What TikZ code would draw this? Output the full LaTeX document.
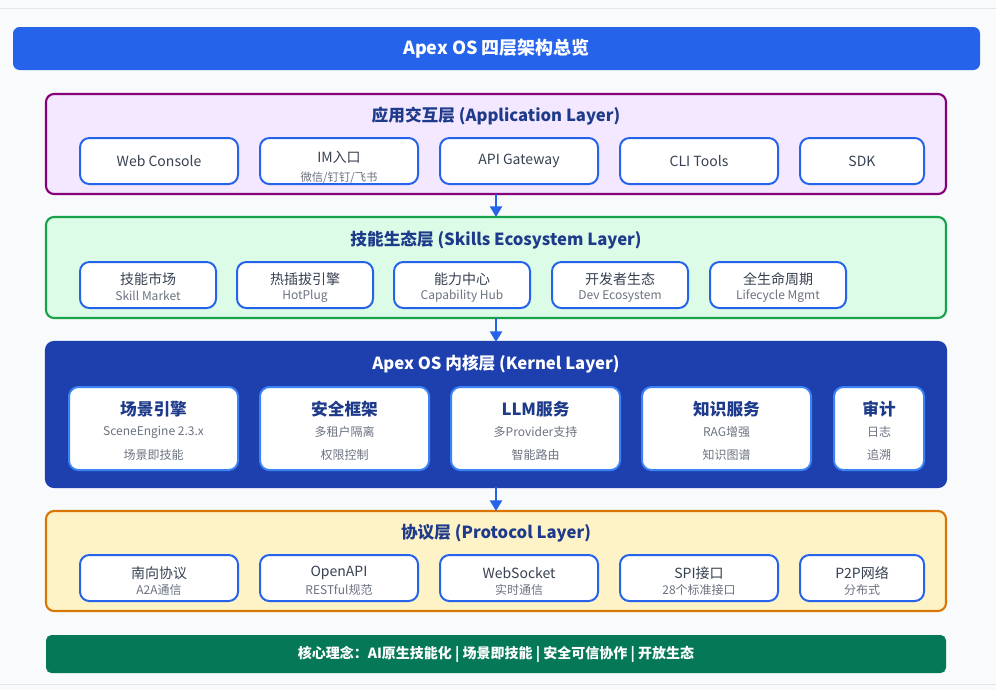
\documentclass[tikz,border=0pt]{standalone}
\usepackage{fontspec}
\setmainfont{Noto Sans CJK SC}
\usetikzlibrary{arrows.meta}
\definecolor{bg}{HTML}{F8FAFC}
\definecolor{tblue}{HTML}{2563EB}
\definecolor{dblue}{HTML}{1E3A8A}
\definecolor{kblue}{HTML}{1E40AF}
\definecolor{gtxt}{HTML}{6B7280}
\definecolor{ktxt}{HTML}{374151}
\tikzset{
 layer/.style={rounded corners=6pt,line width=1.6pt},
 ibox/.style={draw=tblue,fill=white,rounded corners=7pt,line width=1.5pt},
 ltitle/.style={font=\fontsize{12.5}{14}\selectfont\bfseries,text=dblue},
 mtxt/.style={font=\fontsize{10.5}{12}\selectfont,text=ktxt},
 stxt/.style={font=\fontsize{9}{10}\selectfont,text=gtxt},
 ktitle/.style={font=\fontsize{12.5}{14}\selectfont\bfseries,text=dblue},
 flow/.style={-{Triangle[length=8pt,width=9pt]},draw=tblue,fill=tblue,line width=1.8pt},
}
\begin{document}
\begin{tikzpicture}[x=0.75pt,y=-0.75pt]
\useasboundingbox (0,0) rectangle (996,690);
\fill[bg] (0,0) rectangle (996,690);
\draw[black!10] (0,8)--(996,8);
\draw[black!10] (0,684)--(996,684);
% title
\node[fill=tblue,rounded corners=5pt,minimum width=967*0.75pt,minimum height=43*0.75pt,text=white,font=\fontsize{13.5}{16}\selectfont\bfseries] (title) at (496.5,48.5) {Apex OS 四层架构总览};
% layers
\path[layer,draw=purple!70!blue,fill={rgb,255:red,243;green,232;blue,255}] (46,94) rectangle (946,194);
\coordinate (L1b) at (496,194);
\node[ltitle] (t1) at (496,116) {应用交互层 (Application Layer)};
\path[layer,draw={rgb,255:red,22;green,163;blue,74},fill={rgb,255:red,220;green,252;blue,231}] (46,217) rectangle (946,318);
\coordinate (L2t) at (496,217); \coordinate (L2b) at (496,318);
\node[ltitle] (t2) at (496,240) {技能生态层 (Skills Ecosystem Layer)};
\path[layer,draw=kblue,fill=kblue] (46,342) rectangle (946,487);
\coordinate (L3t) at (496,342); \coordinate (L3b) at (496,487);
\node[ltitle,text=white] (t3) at (496,364) {Apex OS 内核层 (Kernel Layer)};
\path[layer,draw={rgb,255:red,217;green,119;blue,6},fill={rgb,255:red,254;green,243;blue,199}] (46,511) rectangle (946,611);
\coordinate (L4t) at (496,511);
\node[ltitle] (t4) at (496,533) {协议层 (Protocol Layer)};
\draw[flow] (L1b)--(L2t);
\draw[flow] (L2b)--(L3t);
\draw[flow] (L3b)--(L4t);
% app boxes
\foreach \a/\b/\t [count=\i] in {80/238/Web Console,260/418/{},440/598/API Gateway,620/778/CLI Tools,800/924/SDK}{
  \draw[ibox] (\a,138) rectangle (\b,184);
  \node[mtxt] (a\i) at ({(\a+\b)/2},161) {\t};
}
\node[mtxt] (im) at (339,157) {IM入口};
\node[stxt,font=\fontsize{8.5}{10}\selectfont] (ims) at (339,178) {微信/钉钉/飞书};
% skills
\foreach \a/\t/\s [count=\i] in {80/技能市场/Skill Market,237/热插拔引擎/HotPlug,394/能力中心/Capability Hub,552/开发者生态/Dev Ecosystem,710/全生命周期/Lifecycle Mgmt}{
  \draw[ibox] (\a,262) rectangle (\a+136,308);
  \node[mtxt] (s\i) at (\a+68,279) {\t};
  \node[stxt] (ss\i) at (\a+68,296) {\s};
}
% kernel
\foreach \a/\b/\t/\s/\u [count=\i] in {69/238/场景引擎/SceneEngine 2.3.x/场景即技能,260/429/安全框架/多租户隔离/权限控制,451/620/LLM服务/多Provider支持/智能路由,642/811/知识服务/RAG增强/知识图谱,834/924/审计/日志/追溯}{
  \draw[ibox,draw={rgb,255:red,59;green,130;blue,246}] (\a,387) rectangle (\b,470);
  \node[ktitle] (k\i) at ({(\a+\b)/2},409) {\t};
  \node[stxt] (kk\i) at ({(\a+\b)/2},432) {\s};
  \node[stxt] (kkk\i) at ({(\a+\b)/2},455) {\u};
}
% protocol
\foreach \a/\b/\t/\s [count=\i] in {80/238/南向协议/A2A通信,260/418/OpenAPI/RESTful规范,440/598/WebSocket/实时通信,620/778/SPI接口/28个标准接口,800/924/P2P网络/分布式}{
  \draw[ibox] (\a,555) rectangle (\b,601);
  \node[mtxt] (p\i) at ({(\a+\b)/2},573) {\t};
  \node[stxt] (pp\i) at ({(\a+\b)/2},590) {\s};
}
% bottom
\node[fill={rgb,255:red,4;green,120;blue,87},rounded corners=4pt,minimum width=900*0.75pt,minimum height=38*0.75pt,text=white,font=\fontsize{10.5}{12}\selectfont\bfseries] (core) at (496,654) {核心理念：AI原生技能化 | 场景即技能 | 安全可信协作 | 开放生态};
\end{tikzpicture}
\end{document}
